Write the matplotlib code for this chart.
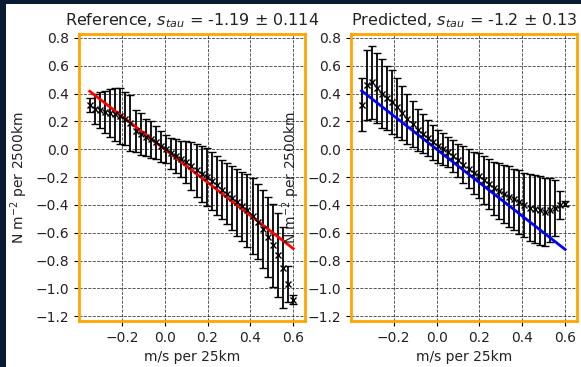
import matplotlib
matplotlib.use("Agg")
import matplotlib.pyplot as plt
from matplotlib.patches import Rectangle

x_vals = [-0.350, -0.326, -0.302, -0.279, -0.255, -0.231, -0.207, -0.184, -0.160, -0.136,
          -0.112, -0.089, -0.065, -0.041, -0.017, 0.006, 0.030, 0.054, 0.078, 0.101,
          0.125, 0.149, 0.173, 0.196, 0.220, 0.244, 0.268, 0.291, 0.315, 0.339,
          0.363, 0.386, 0.410, 0.434, 0.458, 0.481, 0.505, 0.529, 0.553, 0.576, 0.600]

ref_mean = [0.32, 0.29, 0.28, 0.27, 0.26, 0.25, 0.24, 0.22, 0.19, 0.13,
            0.11, 0.085, 0.07, 0.05, 0.02, 0.00, -0.03, -0.05, -0.07, -0.09,
            -0.12, -0.15, -0.18, -0.20, -0.23, -0.26, -0.29, -0.32, -0.35, -0.38,
            -0.41, -0.44, -0.48, -0.52, -0.57, -0.63, -0.69, -0.76, -0.85, -0.97, -1.08]
ref_err = [0.05, 0.11, 0.13, 0.15, 0.17, 0.19, 0.20, 0.19, 0.20, 0.15,
           0.15, 0.135, 0.13, 0.12, 0.11, 0.10, 0.11, 0.12, 0.13, 0.15,
           0.17, 0.19, 0.20, 0.21, 0.21, 0.21, 0.21, 0.22, 0.23, 0.24,
           0.25, 0.26, 0.27, 0.27, 0.28, 0.29, 0.30, 0.30, 0.29, 0.13, 0.03]

pred_mean = [0.32, 0.46, 0.48, 0.44, 0.40, 0.37, 0.34, 0.30, 0.26, 0.22,
             0.18, 0.14, 0.11, 0.08, 0.05, 0.02, 0.00, -0.02, -0.05, -0.08,
             -0.11, -0.14, -0.17, -0.19, -0.22, -0.25, -0.28, -0.30, -0.32, -0.34,
             -0.36, -0.38, -0.40, -0.42, -0.43, -0.44, -0.45, -0.44, -0.42, -0.40, -0.39]
pred_err = [0.19, 0.25, 0.26, 0.255, 0.245, 0.23, 0.23, 0.215, 0.195, 0.18,
            0.165, 0.15, 0.14, 0.13, 0.125, 0.12, 0.115, 0.11, 0.115, 0.12,
            0.13, 0.14, 0.15, 0.16, 0.17, 0.18, 0.19, 0.20, 0.21, 0.22,
            0.22, 0.23, 0.23, 0.24, 0.245, 0.245, 0.245, 0.23, 0.20, 0.10, 0.02]

ref_slope, ref_slope_err = -1.19, 0.114
pred_slope, pred_slope_err = -1.2, 0.13
fit_intercept = 0.0

text_col = "#222222"
plt.rcParams["text.color"] = text_col
plt.rcParams["axes.labelcolor"] = text_col
plt.rcParams["xtick.labelcolor"] = text_col
plt.rcParams["ytick.labelcolor"] = text_col

fig = plt.figure(figsize=(5.81, 3.67), dpi=100)
fig.patch.set_facecolor("white")

ax1 = fig.add_axes([0.136, 0.125, 0.389, 0.782])
ax2 = fig.add_axes([0.604, 0.125, 0.389, 0.782])

panels = [
    (ax1, ref_mean, ref_err, ref_slope, ref_slope_err, "red", "Reference"),
    (ax2, pred_mean, pred_err, pred_slope, pred_slope_err, "blue", "Predicted"),
]
for ax, m, e, s, se, col, name in panels:
    ax.errorbar(x_vals, m, yerr=e, fmt="x", color="black", ecolor="black",
                elinewidth=1.3, capsize=3, capthick=1.0, markersize=5)
    xs = [min(x_vals), max(x_vals)]
    ax.plot(xs, [s * v + fit_intercept for v in xs], color=col, linewidth=2)
    ax.set_xlim(-0.4, 0.655)
    ax.set_ylim(-1.235, 0.827)
    ax.set_xticks([-0.2, 0.0, 0.2, 0.4, 0.6])
    ax.set_yticks([-1.2, -1.0, -0.8, -0.6, -0.4, -0.2, 0.0, 0.2, 0.4, 0.6, 0.8])
    ax.grid(True, color="black", linestyle="--", linewidth=0.6, alpha=0.75)
    for sp in ax.spines.values():
        sp.set_color("orange")
        sp.set_linewidth(2)
    ax.set_xlabel("m/s per 25km")
    ax.set_ylabel("N m$^{-2}$ per 2500km")
    ax.set_title(f"{name}, $s_{{tau}}$ = {s} \u00b1 {se}", fontsize=11.5)

fig.patches.append(Rectangle((0, 0), 6 / 581, 1, transform=fig.transFigure,
                             facecolor="#0b1a33", edgecolor="none", zorder=10))
fig.patches.append(Rectangle((0, 1 - 4 / 367), 1, 4 / 367, transform=fig.transFigure,
                             facecolor="#0b1a33", edgecolor="none", zorder=10))

fig.savefig("out.png", dpi=100)
